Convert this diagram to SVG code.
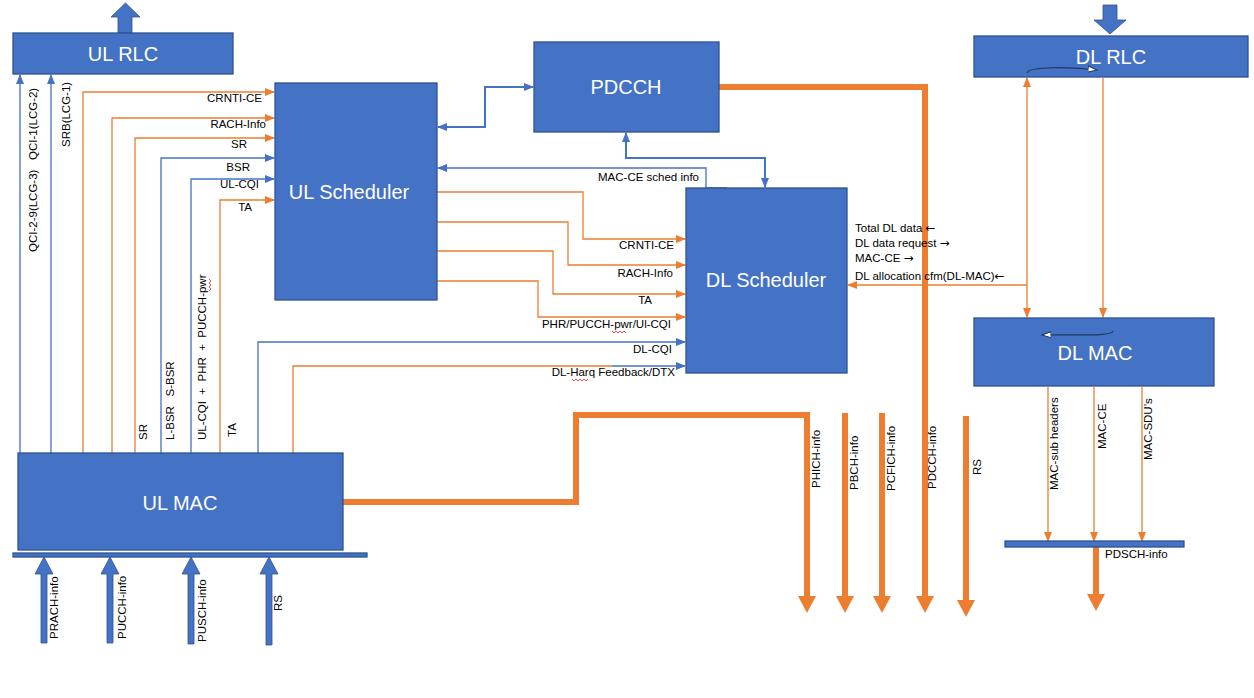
<svg xmlns="http://www.w3.org/2000/svg" width="1254" height="698" viewBox="0 0 1254 698">
<defs>
<style>
.box{fill:#4472C4;stroke:#2F528F;stroke-width:1.3}
.bt{fill:#fff;font-family:"Liberation Sans",Arial,sans-serif;font-size:20px;text-anchor:middle}
.lb{fill:#000;font-family:"Liberation Sans",Arial,sans-serif;font-size:11.5px;white-space:pre}
.ar{font-family:"DejaVu Sans",sans-serif;font-size:12px}
.e{text-anchor:end}
.o{fill:none;stroke:#ED7D31;stroke-width:1.3}
.b{fill:none;stroke:#4472C4;stroke-width:1.3}
.ob{fill:none;stroke:#ED7D31;stroke-width:6}
.bb{fill:none;stroke:#4472C4;stroke-width:2}
.of{fill:#ED7D31}
.bf{fill:#4472C4;stroke:#2F528F;stroke-width:0.8}
.sq{fill:none;stroke:#E02020;stroke-width:0.8}
.cv{fill:none;stroke:#203864;stroke-width:1.2}
</style>
<marker id="aO" markerWidth="10" markerHeight="8" refX="9" refY="4" orient="auto-start-reverse" markerUnits="userSpaceOnUse"><path d="M0,0 L10,4 L0,8 z" fill="#ED7D31"/></marker>
<marker id="aB" markerWidth="10" markerHeight="8" refX="9" refY="4" orient="auto-start-reverse" markerUnits="userSpaceOnUse"><path d="M0,0 L10,4 L0,8 z" fill="#4472C4"/></marker>
<marker id="aC" markerWidth="10" markerHeight="8" refX="9" refY="4" orient="auto-start-reverse" markerUnits="userSpaceOnUse"><path d="M0,1 L9,4 L0,7 z" fill="#fff" stroke="#203864" stroke-width="1"/></marker>
</defs>
<rect width="1254" height="698" fill="#fff"/>

<g id="connectors">
<path class="b" d="M20,453 V75" marker-end="url(#aB)"/>
<path class="b" d="M51,453 V75" marker-end="url(#aB)"/>
<path class="o" d="M83,453 V92 H274" marker-end="url(#aO)"/>
<path class="o" d="M112,453 V118 H274" marker-end="url(#aO)"/>
<path class="o" d="M135,453 V138 H274" marker-end="url(#aO)"/>
<path class="b" d="M161,453 V158 H274" marker-end="url(#aB)"/>
<path class="b" d="M191,453 V179 H274" marker-end="url(#aB)"/>
<path class="o" d="M220,453 V200 H274" marker-end="url(#aO)"/>
<path class="b" d="M258,453 V342 H685" marker-end="url(#aB)"/>
<path class="o" d="M293,453 V366 H612"/>
<path class="b" d="M612,366 H685" marker-end="url(#aB)"/>
<path class="o" d="M437,192 H583 V239 H685" marker-end="url(#aO)"/>
<path class="o" d="M437,222 H568 V265 H685" marker-end="url(#aO)"/>
<path class="o" d="M437,251 H553 V294 H685" marker-end="url(#aO)"/>
<path class="o" d="M437,281 H538 V317 H685" marker-end="url(#aO)"/>
<path class="bb" d="M438,127 H485 V87 H533" marker-start="url(#aB)" marker-end="url(#aB)"/>
<path class="bb" d="M626,133 V158 H765 V187" marker-start="url(#aB)" marker-end="url(#aB)"/>
<path class="b" d="M727,188 H706 V168 H438" marker-end="url(#aB)"/>
<path class="o" d="M1027,78 V317" stroke-width="2" marker-start="url(#aO)" marker-end="url(#aO)"/>
<path class="o" d="M1103,78 V317" stroke-width="2" marker-end="url(#aO)"/>
<path class="o" d="M1027,285 H848" stroke-width="2" marker-end="url(#aO)"/>
<path class="o" d="M1048,387 V541" marker-end="url(#aO)"/>
<path class="o" d="M1094,387 V541" marker-end="url(#aO)"/>
<path class="o" d="M1142,387 V541" marker-end="url(#aO)"/>
<path class="ob" d="M1096,547 V596"/>
<polygon class="of" points="1087,594 1105,594 1096,611"/>
<path class="ob" d="M343,502 H576 V415 H807 V598" stroke-linejoin="miter"/>
<polygon class="of" points="798,596 816,596 807,613"/>
<path class="ob" d="M845,413 V598"/>
<polygon class="of" points="836,596 854,596 845,613"/>
<path class="ob" d="M882,413 V598"/>
<polygon class="of" points="873,596 891,596 882,613"/>
<path class="ob" d="M719,87 H925 V598" stroke-linejoin="miter"/>
<polygon class="of" points="916,596 934,596 925,613"/>
<path class="ob" d="M966,416 V602"/>
<polygon class="of" points="957,600 975,600 966,617"/>
<polygon class="bf" points="41,643 41,574 35,574 44,557 53,574 47,574 47,643"/>
<polygon class="bf" points="107,643 107,574 101,574 110,557 119,574 113,574 113,643"/>
<polygon class="bf" points="188,644 188,574 182,574 191,557 200,574 194,574 194,644"/>
<polygon class="bf" points="266,645 266,574 260,574 269,557 278,574 272,574 272,645"/>
<polygon class="bf" points="118,33 118,17 111,17 125.5,3 140,17 132,17 132,33"/>
<polygon class="bf" points="1103,5 1117,5 1117,20 1126,20 1110,34 1094,20 1103,20"/>
</g>

<g id="ul-rlc"><rect class="box" x="13" y="33" width="220" height="41"/><text class="bt" x="123" y="61">UL RLC</text></g>
<g id="ul-scheduler"><rect class="box" x="275" y="83" width="162" height="217"/><text class="bt" x="349" y="199" font-size="19">UL Scheduler</text></g>
<g id="pdcch"><rect class="box" x="534" y="42" width="185" height="90"/><text class="bt" x="626" y="94">PDCCH</text></g>
<g id="dl-scheduler"><rect class="box" x="686" y="188" width="161" height="185"/><text class="bt" x="766" y="287" font-size="19">DL Scheduler</text></g>
<g id="dl-rlc"><rect class="box" x="974" y="36" width="274" height="41"/><text class="bt" x="1111" y="64">DL RLC</text>
<path class="cv" d="M1027,73 C1029,66 1070,67 1097,70" marker-end="url(#aC)"/></g>
<g id="dl-mac"><rect class="box" x="974" y="318" width="240" height="68"/><text class="bt" x="1095" y="360">DL MAC</text>
<path class="cv" d="M1113,331 C1112,337 1070,334 1042,335" marker-end="url(#aC)"/></g>
<g id="ul-mac"><rect class="box" x="18" y="453" width="325" height="97"/><text class="bt" x="180" y="510">UL MAC</text>
<rect class="box" x="13" y="553" width="354" height="4"/></g>
<g id="pdsch-bar"><rect class="box" x="1005" y="541" width="179" height="6"/></g>

<g id="labels">
<text class="lb" transform="translate(37,160) rotate(-90)">QCI-1(LCG-2)</text>
<text class="lb" transform="translate(37,252) rotate(-90)">QCI-2-9(LCG-3)</text>
<text class="lb" transform="translate(70,147) rotate(-90)">SRB(LCG-1)</text>
<text class="lb e" x="262" y="102">CRNTI-CE</text>
<text class="lb e" x="266" y="128">RACH-Info</text>
<text class="lb e" x="247" y="148">SR</text>
<text class="lb e" x="250" y="171">BSR</text>
<text class="lb e" x="259" y="188">UL-CQI</text>
<text class="lb e" x="252" y="211">TA</text>
<text class="lb" transform="translate(147,440) rotate(-90)">SR</text>
<text class="lb" transform="translate(174,440) rotate(-90)">L-BSR   S-BSR</text>
<text class="lb" transform="translate(206,440) rotate(-90)">UL-CQI  +  PHR  +  PUCCH-pwr</text>
<path class="sq" d="M209,279 l2,2 l-2,2 l2,2 l-2,2 l2,2 l-2,2"/>
<text class="lb" transform="translate(236,437) rotate(-90)">TA</text>
<text class="lb e" x="699" y="181">MAC-CE sched info</text>
<text class="lb e" x="674" y="249">CRNTI-CE</text>
<text class="lb e" x="673" y="277">RACH-Info</text>
<text class="lb e" x="652" y="304">TA</text>
<text class="lb e" x="671" y="328">PHR/PUCCH-pwr/Ul-CQI</text>
<path class="sq" d="M612,331 l2,2 l2,-2 l2,2 l2,-2 l2,2 l2,-2 l2,2"/>
<text class="lb e" x="672" y="353">DL-CQI</text>
<text class="lb e" x="675" y="376">DL-Harq Feedback/DTX</text>
<path class="sq" d="M572,379 l2,2 l2,-2 l2,2 l2,-2 l2,2 l2,-2 l2,2 l2,-2"/>
<text class="lb" x="855" y="232">Total DL data <tspan class="ar">←</tspan></text>
<text class="lb" x="855" y="247">DL data request <tspan class="ar">→</tspan></text>
<text class="lb" x="855" y="262">MAC-CE <tspan class="ar">→</tspan></text>
<text class="lb" x="855" y="280">DL allocation cfm(DL-MAC)<tspan class="ar">←</tspan></text>
<text class="lb" transform="translate(58,639) rotate(-90)">PRACH-info</text>
<text class="lb" transform="translate(126,639) rotate(-90)">PUCCH-info</text>
<text class="lb" transform="translate(206,642) rotate(-90)">PUSCH-info</text>
<text class="lb" transform="translate(282,611) rotate(-90)">RS</text>
<text class="lb" transform="translate(820,488) rotate(-90)">PHICH-info</text>
<text class="lb" transform="translate(858,490) rotate(-90)">PBCH-info</text>
<text class="lb" transform="translate(895,491) rotate(-90)">PCFICH-info</text>
<text class="lb" transform="translate(936,489) rotate(-90)">PDCCH-info</text>
<text class="lb" transform="translate(981,475) rotate(-90)">RS</text>
<text class="lb" transform="translate(1058,490) rotate(-90)">MAC-sub headers</text>
<text class="lb" transform="translate(1106,449) rotate(-90)">MAC-CE</text>
<text class="lb" transform="translate(1152,460) rotate(-90)">MAC-SDU’s</text>
<text class="lb" x="1105" y="558">PDSCH-info</text>
</g>
</svg>
